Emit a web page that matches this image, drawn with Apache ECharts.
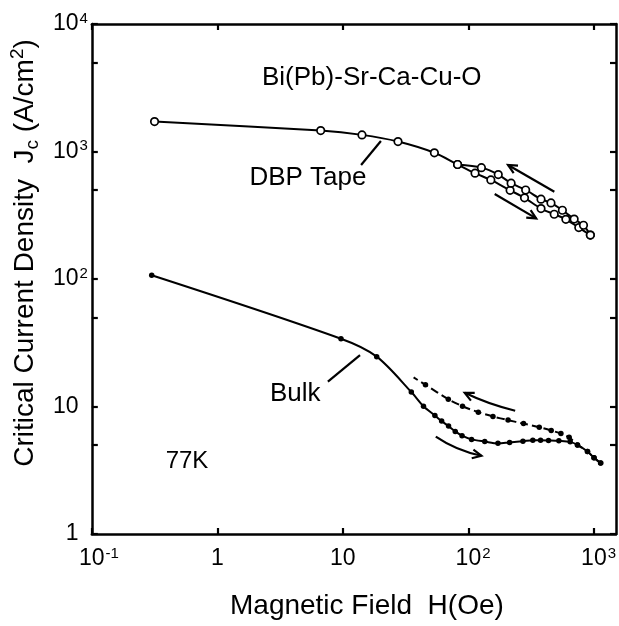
<!DOCTYPE html>
<html>
<head>
<meta charset="utf-8">
<script src="https://cdn.jsdelivr.net/npm/echarts@6/dist/echarts.min.js"></script>
<style>
html,body{margin:0;padding:0;background:#fff;}
#chart{width:619px;height:626px;}
</style>
</head>
<body>
<div id="chart"></div>
<script>
// ---------------- DATA (H in Oe, Jc in A/cm^2) ----------------
// DBP tape: virgin curve + increasing-field branch
const dbpIncH = [0.316, 6.66, 14.2, 27.5, 53.6, 82, 113, 151, 215, 280, 379, 483, 598, 758, 937];
const dbpIncJ = [1716, 1459, 1350, 1197, 977, 791, 676, 598, 496, 433, 357, 322, 294, 253, 221];
// DBP tape: decreasing-field branch
const dbpDecH = [937, 826, 696, 561, 455, 379, 286, 219, 173, 127, 82];
const dbpDecJ = [221, 264, 295, 346, 395, 423, 499, 564, 659, 747, 791];
// Bulk: virgin curve + increasing-field branch
const bulkIncH = [0.30, 9.66, 18.6, 35.1, 43.9, 54.1, 61.2, 69.5, 78.6, 89, 106, 135, 172, 213, 272, 326, 376, 435, 526, 647, 740, 889, 1002, 1132];
const bulkIncJ = [107, 34.0, 24.6, 13.0, 10.05, 8.5, 7.68, 7.02, 6.38, 5.90, 5.52, 5.31, 5.14, 5.23, 5.33, 5.44, 5.44, 5.42, 5.38, 5.28, 5.0, 4.43, 3.97, 3.60];
// Bulk: decreasing-field branch (last entry is the end of the dashed line, no dot)
const bulkDecH = [1132, 1002, 889, 740, 635, 546, 457, 367, 275, 207, 157, 120, 89.8, 69.2, 45.5, 36.6];
const bulkDecJ = [3.60, 3.97, 4.43, 5.0, 5.73, 6.13, 6.49, 6.89, 7.34, 7.82, 8.35, 9.03, 10.05, 11.4, 14.8, 16.9];

// Axis ticks and labels
const xTickValues = [0.1, 1, 10, 100, 1000];
const xTickLabels = [['10', '-1'], ['1', ''], ['10', ''], ['10', '2'], ['10', '3']];
const yTickValues = [1, 10, 100, 1000, 10000];
const yTickLabels = [['1', ''], ['10', ''], ['10', '2'], ['10', '3'], ['10', '4']];
const yTickMarks = [1, 5, 10, 50, 100, 500, 1000, 5000, 10000];

const xName = 'Magnetic Field  H(Oe)';
const yNameParts = ['Critical Current Density  J', 'c', ' (A/cm', '2', ')'];

// Annotations (anchored in data coordinates)
const textNotes = [
  { text: 'Bi(Pb)-Sr-Ca-Cu-O', at: [17, 3800] },
  { text: 'DBP Tape', at: [5.27, 625] },
  { text: 'Bulk', at: [4.18, 12.6] },
  { text: '77K', at: [0.573, 3.74] }
];
const textNoteSizes = [26, 26, 26, 24];
const leaderLines = [
  [[13.97, 784], [20.1, 1209]],
  [[7.6, 15.65], [13.7, 25.3]]
];
// arrows: [tail, head, bend(px)]
const arrows = [
  [[484, 484], [207, 784], 0],
  [[162, 464], [347, 299], 0],
  [[236, 9.27], [93.5, 12.8], -3],
  [[55, 5.80], [127, 4.11], 5]
];

// ---------------- CHART ----------------
const zip = (a, b) => a.map((v, i) => [v, b[i]]);
const FONT = "'Liberation Sans', Arial, sans-serif";
const BLACK = '#000';

function idxOf(list, v) {
  let best = 0, bd = Infinity;
  list.forEach((t, i) => { const d = Math.abs(Math.log10(t) - Math.log10(v)); if (d < bd) { bd = d; best = i; } });
  return bd < 1e-6 ? best : -1;
}
function xFmt(v) {
  const i = idxOf(xTickValues, v); if (i < 0) return '';
  const [b, s] = xTickLabels[i];
  return s ? '{g|' + s + '}{b|' + b + '}{s|' + s + '}' : '{b|' + b + '}';
}
function yFmt(v) {
  const i = idxOf(yTickValues, v); if (i < 0) return '';
  const [b, s] = yTickLabels[i];
  return s ? '{b|' + b + '}{s|' + s + '}' : '{b|' + b + '}{g|2}';
}
const tickRich = {
  b: { fontFamily: FONT, fontSize: 23, color: BLACK, lineHeight: 26 },
  s: { fontFamily: FONT, fontSize: 15, color: BLACK, lineHeight: 15, verticalAlign: 'top', padding: [0, 0, 0, 1] },
  g: { fontFamily: FONT, fontSize: 15, color: 'rgba(0,0,0,0)', lineHeight: 15, verticalAlign: 'top', padding: [0, 0, 0, 1] }
};

const axisLine = { show: true, lineStyle: { color: BLACK, width: 2.5 } };
const tickStyle = { color: BLACK, width: 2.2 };

const chart = echarts.init(document.getElementById('chart'), null, { renderer: 'canvas' });

const option = {
  animation: false,
  backgroundColor: '#fff',
  grid: { left: 89, right: 3, top: 24, bottom: 92, containLabel: false },
  xAxis: [
    {
      type: 'log', logBase: 10, min: 0.1, max: 1500, position: 'bottom',
      axisLine: axisLine,
      axisTick: { show: true, inside: true, length: 6, customValues: xTickValues, lineStyle: tickStyle },
      axisLabel: { show: true, customValues: xTickValues, formatter: xFmt, rich: tickRich, margin: 12 },
      splitLine: { show: false }, minorTick: { show: false },
      name: xName, nameLocation: 'middle', nameGap: 58,
      nameTextStyle: { fontFamily: FONT, fontSize: 28, color: BLACK, padding: [0, 0, 0, 26] }
    },
    {
      type: 'log', logBase: 10, min: 0.1, max: 1500, position: 'top',
      axisLine: axisLine,
      axisTick: { show: true, inside: true, length: 6, customValues: xTickValues, lineStyle: tickStyle },
      axisLabel: { show: false }, splitLine: { show: false }
    }
  ],
  yAxis: [
    {
      type: 'log', logBase: 10, min: 1, max: 10000, position: 'left',
      axisLine: axisLine,
      axisTick: { show: true, inside: true, length: 6, customValues: yTickMarks, lineStyle: tickStyle },
      axisLabel: { show: true, customValues: yTickValues, formatter: yFmt, rich: tickRich, margin: 4, align: 'right' },
      splitLine: { show: false },
      name: yNameParts[0] + '{sub|' + yNameParts[1] + '}' + yNameParts[2] + '{sup|' + yNameParts[3] + '}' + yNameParts[4],
      nameLocation: 'middle', nameGap: 44, nameRotate: 90,
      nameTextStyle: {
        fontFamily: FONT, fontSize: 28, color: BLACK, lineHeight: 34, padding: [0, 0, 0, 52],
        rich: {
          sub: { fontFamily: FONT, fontSize: 19, color: BLACK, lineHeight: 19, verticalAlign: 'bottom' },
          sup: { fontFamily: FONT, fontSize: 19, color: BLACK, lineHeight: 19, verticalAlign: 'top' }
        }
      }
    },
    {
      type: 'log', logBase: 10, min: 1, max: 10000, position: 'right',
      axisLine: axisLine,
      axisTick: { show: true, inside: true, length: 6, customValues: yTickMarks, lineStyle: tickStyle },
      axisLabel: { show: false }, splitLine: { show: false }
    }
  ],
  series: [
    {
      type: 'line', name: 'DBP inc', xAxisIndex: 0, yAxisIndex: 0,
      data: zip(dbpIncH, dbpIncJ), smooth: 0.3,
      symbol: 'circle', symbolSize: 7.5, showAllSymbol: true,
      lineStyle: { color: BLACK, width: 2 },
      itemStyle: { color: '#fff', borderColor: BLACK, borderWidth: 1.7 }, z: 3
    },
    {
      type: 'line', name: 'DBP dec', xAxisIndex: 0, yAxisIndex: 0,
      data: zip(dbpDecH, dbpDecJ), smooth: 0.3,
      symbol: 'circle', symbolSize: 7.5, showAllSymbol: true,
      lineStyle: { color: BLACK, width: 2 },
      itemStyle: { color: '#fff', borderColor: BLACK, borderWidth: 1.7 }, z: 3
    },
    {
      type: 'line', name: 'Bulk inc', xAxisIndex: 0, yAxisIndex: 0,
      data: zip(bulkIncH, bulkIncJ), smooth: 0.3,
      symbol: 'circle', symbolSize: 5.5, showAllSymbol: true,
      lineStyle: { color: BLACK, width: 2 },
      itemStyle: { color: BLACK }
    },
    {
      type: 'line', name: 'Bulk dec', xAxisIndex: 0, yAxisIndex: 0,
      data: zip(bulkDecH, bulkDecJ), smooth: 0.3,
      symbol: 'circle', showAllSymbol: true,
      symbolSize: (v, p) => (p.dataIndex === bulkDecH.length - 1 ? 0 : 5.5),
      lineStyle: { color: BLACK, width: 2, type: [8, 4] },
      itemStyle: { color: BLACK }
    }
  ]
};
chart.setOption(option);

// ---------------- ANNOTATIONS ----------------
const toPx = (pt) => chart.convertToPixel({ xAxisIndex: 0, yAxisIndex: 0 }, pt);
const graphics = [];
textNotes.forEach((n, i) => {
  const p = toPx(n.at);
  graphics.push({
    type: 'text', x: p[0], y: p[1], z: 10,
    style: { text: n.text, font: textNoteSizes[i] + "px " + FONT, fill: BLACK, align: 'center', verticalAlign: 'middle' }
  });
});
leaderLines.forEach((l) => {
  const a = toPx(l[0]), b = toPx(l[1]);
  graphics.push({ type: 'line', z: 10, shape: { x1: a[0], y1: a[1], x2: b[0], y2: b[1] }, style: { stroke: BLACK, lineWidth: 2.2 } });
});
arrows.forEach((ar) => {
  const t = toPx(ar[0]), h = toPx(ar[1]);
  const mx = (t[0] + h[0]) / 2, my = (t[1] + h[1]) / 2;
  const dx = h[0] - t[0], dy = h[1] - t[1], len = Math.hypot(dx, dy);
  const nx = -dy / len, ny = dx / len;
  const cx = mx + nx * ar[2], cy = my + ny * ar[2];
  graphics.push({ type: 'bezierCurve', z: 10, shape: { x1: t[0], y1: t[1], x2: h[0], y2: h[1], cpx1: cx, cpy1: cy }, style: { stroke: BLACK, lineWidth: 2.2, fill: null } });
  const ang = Math.atan2(h[1] - cy, h[0] - cx);
  const L = 10, A = 0.45;
  const p1 = [h[0] - L * Math.cos(ang - A), h[1] - L * Math.sin(ang - A)];
  const p2 = [h[0] - L * Math.cos(ang + A), h[1] - L * Math.sin(ang + A)];
  graphics.push({ type: 'polyline', z: 10, shape: { points: [p1, h, p2] }, style: { stroke: BLACK, lineWidth: 2.2, fill: null } });
});
chart.setOption({ graphic: graphics });
</script>
</body>
</html>
